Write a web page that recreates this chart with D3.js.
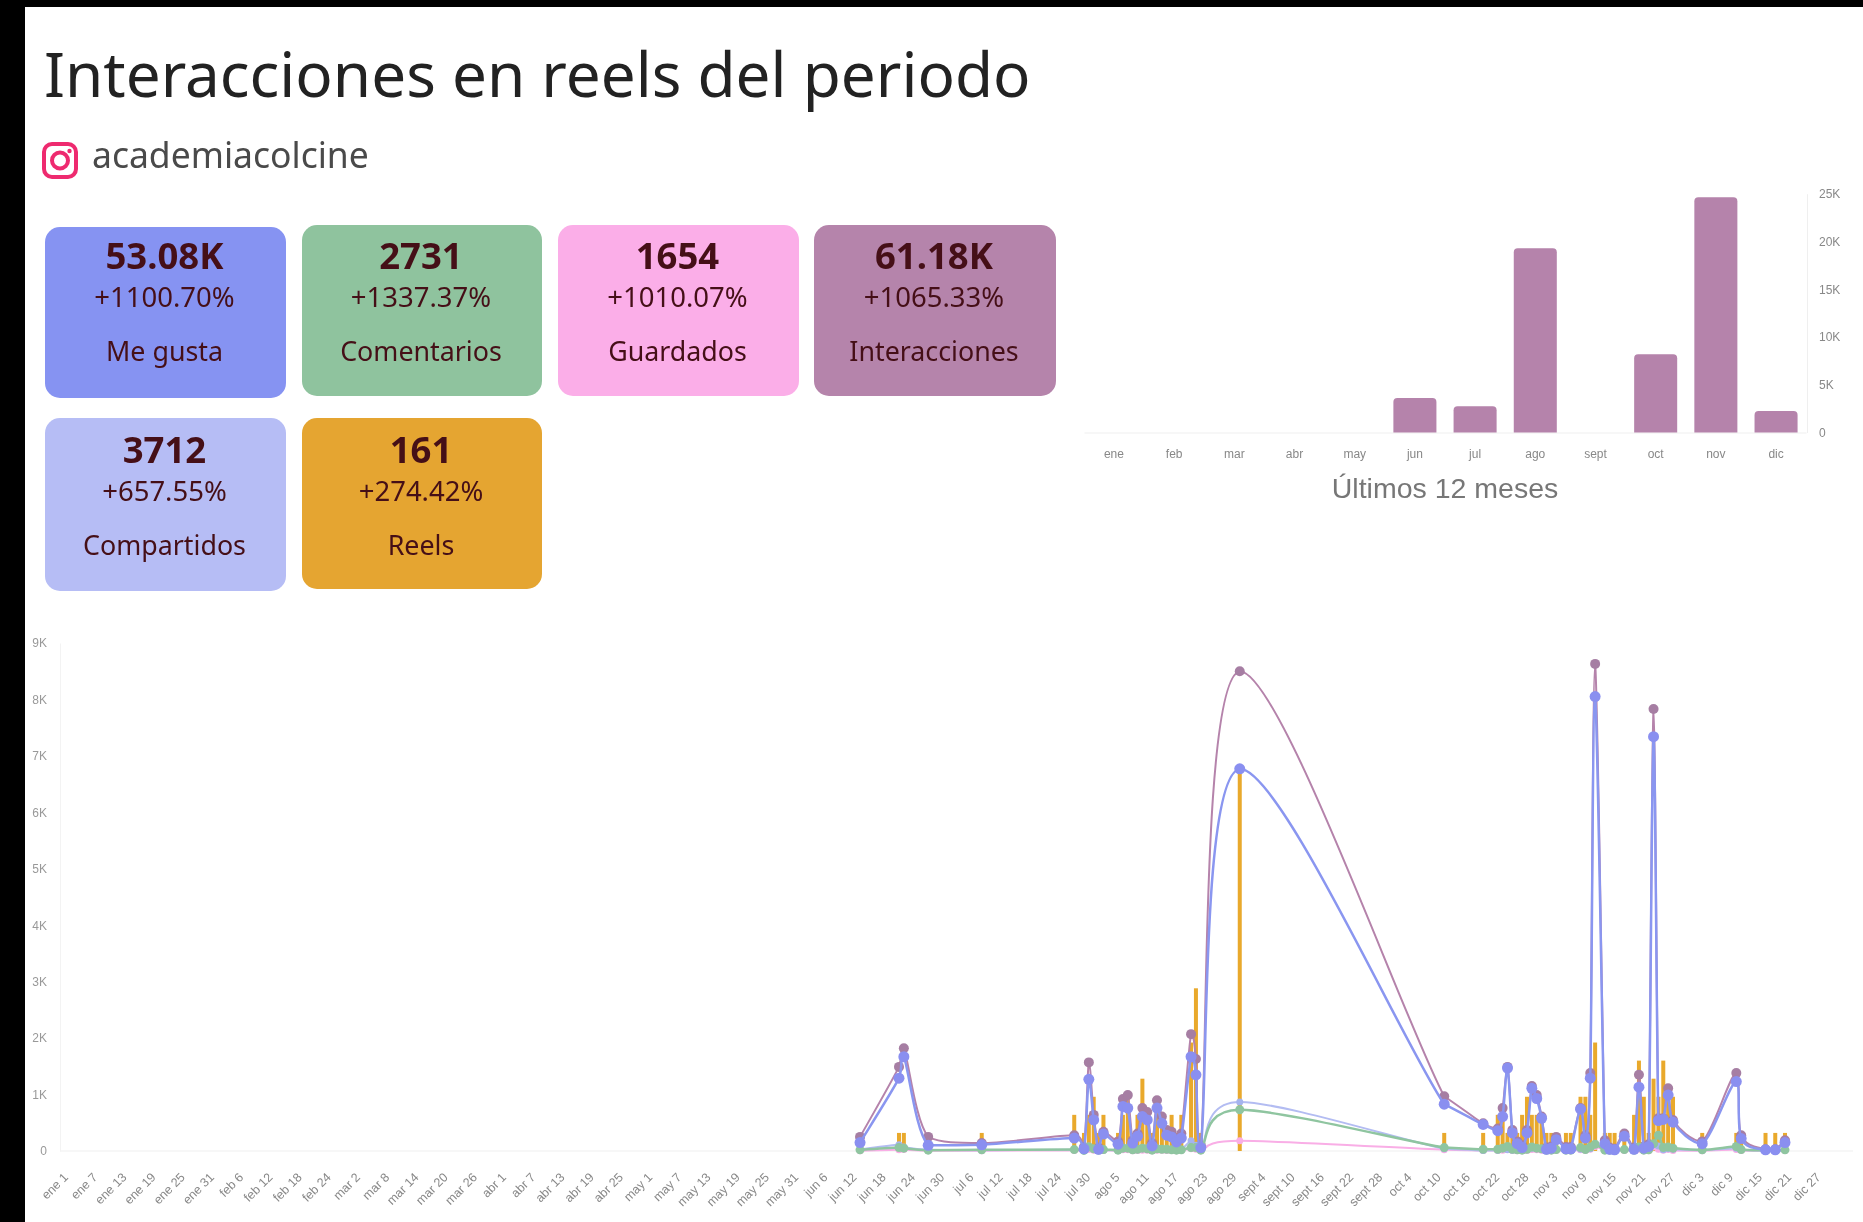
<!DOCTYPE html>
<html lang="es"><head><meta charset="utf-8">
<script src="https://cdn.jsdelivr.net/npm/d3@7"></script>
<style>html,body{margin:0;padding:0;background:#000;overflow:hidden}svg{display:block;filter:blur(.5px)}</style>
</head><body><svg id="c" width="1863" height="1222"></svg>
<script>
const titleText = "Interacciones en reels del periodo";
const handleText = "academiacolcine";

const cardValues = ["53.08K","2731","1654","61.18K","3712","161"];
const cardChanges = ["+1100.70%","+1337.37%","+1010.07%","+1065.33%","+657.55%","+274.42%"];
const cardLabels = ["Me gusta","Comentarios","Guardados","Interacciones","Compartidos","Reels"];

const monthNames = ["ene","feb","mar","abr","may","jun","jul","ago","sept","oct","nov","dic"];
const monthLengths = [31,28,31,30,31,30,31,31,30,31,30,31];
const monthTotals = [0,0,0,0,0,3600,2740,19280,0,8200,24630,2240];

const dates = [
 "jun 12","jun 20","jun 21","jun 26","jul 7","jul 26","jul 28","jul 29","jul 30","jul 31",
 "ago 1","ago 4","ago 5","ago 6","ago 7","ago 8","ago 9","ago 10","ago 11","ago 12",
 "ago 13","ago 14","ago 15","ago 16","ago 17","ago 19","ago 20","ago 21","ago 29","oct 10",
 "oct 18","oct 21","oct 22","oct 23","oct 24","oct 25","oct 26","oct 27","oct 28","oct 29",
 "oct 30","oct 31","nov 1","nov 2","nov 4","nov 5","nov 7","nov 8","nov 9","nov 10",
 "nov 12","nov 13","nov 14","nov 16","nov 18","nov 19","nov 20","nov 21","nov 22","nov 23",
 "nov 24","nov 25","nov 26","dic 2","dic 9","dic 10","dic 15","dic 17","dic 19"];
const interacciones = [
 250,1490,1820,250,140,280,70,1570,640,60,
 340,170,920,990,190,310,760,690,140,900,
 610,370,340,220,310,2070,1630,100,8500,970,
 490,400,760,1490,370,170,100,370,1150,990,
 610,60,80,250,70,70,760,280,1380,8630,
 190,60,40,310,60,1350,80,120,7830,580,
 580,1110,550,170,1380,280,30,30,190];
const meGusta = [
 150,1290,1670,100,110,230,40,1270,550,30,
 300,120,790,760,140,260,610,550,90,760,
 490,280,250,160,230,1670,1350,60,6770,830,
 470,360,610,1470,320,130,60,320,1110,930,
 580,30,50,200,40,40,740,230,1290,8050,
 130,30,20,260,30,1130,50,80,7340,540,
 560,990,510,130,1230,220,20,20,150];
const comentarios = [
 20,60,50,15,20,25,10,70,40,15,
 25,15,50,50,20,30,50,40,15,40,
 30,30,20,15,20,60,60,15,730,60,
 30,30,50,80,30,20,15,30,70,50,
 40,15,15,25,15,15,60,25,70,120,
 15,15,10,25,15,70,15,20,130,280,
 60,70,50,20,80,25,10,10,20];
const guardados = [
 5,20,25,5,5,10,5,25,15,5,
 10,5,20,20,5,10,15,15,5,15,
 15,10,10,5,10,40,30,5,180,20,
 10,10,15,25,10,5,5,10,25,20,
 15,5,5,10,5,5,20,10,30,80,
 5,5,5,10,5,30,5,5,70,30,
 15,25,10,5,25,10,5,5,10];
const compartidos = [
 30,110,70,20,15,20,10,90,35,10,
 15,15,40,60,15,20,40,50,15,50,
 35,25,30,20,25,180,100,15,870,40,
 10,15,40,20,15,15,15,20,50,40,
 30,10,10,20,10,10,30,20,40,120,
 15,10,5,20,10,60,10,20,110,90,
 20,40,30,15,50,20,5,5,15];
const reels = [
 1,1,1,1,1,2,1,2,3,1,
 2,1,2,3,1,2,4,2,1,3,
 2,1,2,1,2,6,9,1,21,1,
 1,2,2,1,1,1,2,3,2,2,
 2,1,1,1,1,1,3,3,2,6,
 1,1,1,1,2,5,3,1,4,3,
 5,3,3,1,1,1,1,1,1];

const cardFill = ["#8693f2","#8fc39e","#fbaee8","#b584ab","#b6bdf5","#e5a531"];
const cardBox = [[45,227,241,171],[302,225,240,171],[558,225,241,171],[814,225,242,171],[45,418,241,173],[302,418,240,171]];
const cardTextTop = [225,225,225,225,419,419];
const uiFont = "'Noto Sans',sans-serif", chartFont = "'Liberation Sans',Arial,sans-serif";

const svg = d3.select("#c");
svg.append("rect").attr("x",25).attr("y",7).attr("width",1838).attr("height",1215).attr("fill","#fff");

svg.append("text").text(titleText).attr("x",44).attr("y",97).attr("font-family",uiFont).attr("font-size",62).attr("fill","#222");
svg.append("text").text(handleText).attr("x",92).attr("y",168).attr("font-family",uiFont).attr("font-size",35.5).attr("fill","#4a4a4a");
const ig = svg.append("g").attr("fill","none").attr("stroke","#ee2a6f").attr("stroke-width",4);
ig.append("rect").attr("x",44).attr("y",144).attr("width",32).attr("height",33).attr("rx",8);
ig.append("circle").attr("cx",60).attr("cy",160.5).attr("r",8);
svg.append("circle").attr("cx",69.5).attr("cy",151).attr("r",2.2).attr("fill","#ee2a6f");

const cards = svg.selectAll("g.card").data(cardValues).join("g").attr("class","card")
  .attr("transform",(d,i)=>`translate(${cardBox[i][0]},${cardBox[i][1]})`);
cards.append("rect").attr("width",(d,i)=>cardBox[i][2]).attr("height",(d,i)=>cardBox[i][3]).attr("rx",15).attr("fill",(d,i)=>cardFill[i]);
const cardText = (sel,y,size,weight,f) => sel.append("text").text(f)
  .attr("x",(d,i)=>cardBox[i][2]/2-1).attr("y",(d,i)=>cardTextTop[i]-cardBox[i][1]+y).attr("text-anchor","middle").attr("font-family",uiFont)
  .attr("font-size",size).attr("font-weight",weight).attr("fill","#450f17");
cardText(cards,44,36.5,700,d=>d);
cardText(cards,82,27.5,400,(d,i)=>cardChanges[i]);
cardText(cards,136,26.8,400,(d,i)=>cardLabels[i]);

// 12 month chart
const bx = d3.scaleBand().domain(monthNames).range([1084,1806]).paddingInner(0.285).paddingOuter(0.14);
const by = d3.scaleLinear().domain([0,25000]).range([432.5,193.7]);
const kFmt = d => d===0 ? "0" : (d/1000)+"K";
const barX = svg.append("g").attr("transform","translate(0,432.5)").call(d3.axisBottom(bx).tickSize(0).tickPadding(17));
barX.select(".domain").attr("stroke","#efefef");
barX.selectAll("text").attr("font-family",chartFont).attr("font-size",12).attr("fill","#888");
const barY = svg.append("g").attr("transform","translate(1807,0)").call(d3.axisRight(by).tickValues([0,5000,10000,15000,20000,25000]).tickFormat(kFmt).tickSize(0).tickPadding(12));
barY.select(".domain").attr("stroke","#efefef");
barY.selectAll("text").attr("font-family",chartFont).attr("font-size",12).attr("fill","#888");
svg.append("g").selectAll("path").data(monthTotals).join("path").attr("fill","#b583ab")
  .attr("d",(d,i)=>{ if(!d) return null; const x=bx(monthNames[i]),w=bx.bandwidth(),t=by(d),b=by(0),r=4;
    return `M${x},${b}V${t+r}Q${x},${t} ${x+r},${t}H${x+w-r}Q${x+w},${t} ${x+w},${t+r}V${b}Z`; });
svg.append("text").text("Últimos 12 meses").attr("x",1445).attr("y",498).attr("text-anchor","middle")
  .attr("font-family",chartFont).attr("font-size",28.5).attr("fill","#777");

// main chart
const allDays = [];
monthNames.forEach((m,i)=>{ for(let d=1;d<=monthLengths[i];d++) allDays.push(m+" "+d); });
const x = d3.scalePoint().domain(allDays).range([71.4,1843.4]);
const y = d3.scaleLinear().domain([0,9000]).range([1151,643]);
const yReels = d3.scaleLinear().domain([0,28.1]).range([1151,643]);

const ax = svg.append("g").attr("transform","translate(0,1151)")
  .call(d3.axisBottom(x).tickValues(allDays.filter((d,i)=>i%6===0)).tickSize(0).tickPadding(0));
ax.select(".domain").attr("stroke","#efefef").attr("d","M60,0H1853");
ax.selectAll("text").attr("font-family",chartFont).attr("font-size",12.5).attr("fill","#888")
  .attr("text-anchor","end").attr("dy",0).attr("transform","translate(-3,27) rotate(-45)");
const ay = svg.append("g").attr("transform","translate(60,0)")
  .call(d3.axisLeft(y).tickValues(d3.range(0,9001,1000)).tickFormat(kFmt).tickSize(0).tickPadding(13));
ay.select(".domain").attr("stroke","#f3f3f3");
ay.selectAll("text").attr("font-family",chartFont).attr("font-size",12).attr("fill","#999");

svg.append("g").selectAll("rect").data(reels).join("rect")
  .attr("x",(d,i)=>x(dates[i])-2).attr("width",4)
  .attr("y",d=>yReels(d)).attr("height",d=>1151-yReels(d)).attr("fill","#e9a92c");

// Uniform Catmull-Rom handles, clamped to each segment's box so the line never dips under the baseline.
function clampedSpline(context){
  let pts=[];
  const clamp=(v,a,b)=>Math.max(Math.min(a,b),Math.min(Math.max(a,b),v));
  return {
    areaStart(){}, areaEnd(){},
    lineStart(){pts=[];},
    point(px,py){pts.push([+px,+py]);},
    lineEnd(){
      if(!pts.length) return;
      context.moveTo(pts[0][0],pts[0][1]);
      for(let i=0;i<pts.length-1;i++){
        const p0=pts[Math.max(i-1,0)],p1=pts[i],p2=pts[i+1],p3=pts[Math.min(i+2,pts.length-1)];
        const c1x=clamp(p1[0]+(p2[0]-p0[0])/6,p1[0],p2[0]), c1y=clamp(p1[1]+(p2[1]-p0[1])/6,p1[1],p2[1]);
        const c2x=clamp(p2[0]-(p3[0]-p1[0])/6,p1[0],p2[0]), c2y=clamp(p2[1]-(p3[1]-p1[1])/6,p1[1],p2[1]);
        context.bezierCurveTo(c1x,c1y,c2x,c2y,p2[0],p2[1]);
      }
    }
  };
}
const line = d3.line().x((d,i)=>x(dates[i])).y(d=>y(d)).curve(clampedSpline);
const seriesDraw = [
  {v:interacciones,c:"#b583ab",m:"#a67ea3",w:2,r:5},
  {v:guardados,c:"#f9aee6",m:"#f9aee6",w:2,r:3.5},
  {v:compartidos,c:"#b3bcf2",m:"#a5b4ee",w:2,r:3.5},
  {v:comentarios,c:"#8fc5a0",m:"#8fc5a0",w:2.5,r:4.5},
  {v:meGusta,c:"#8a96f0",m:"#8a8ff0",w:2.5,r:5.5}
];
seriesDraw.forEach(s=>{
  const g = svg.append("g");
  g.append("path").attr("d",line(s.v)).attr("fill","none").attr("stroke",s.c).attr("stroke-width",s.w);
  g.selectAll("circle").data(s.v).join("circle").attr("cx",(d,i)=>x(dates[i])).attr("cy",d=>y(d)).attr("r",s.r).attr("fill",s.m);
});
</script></body></html>
